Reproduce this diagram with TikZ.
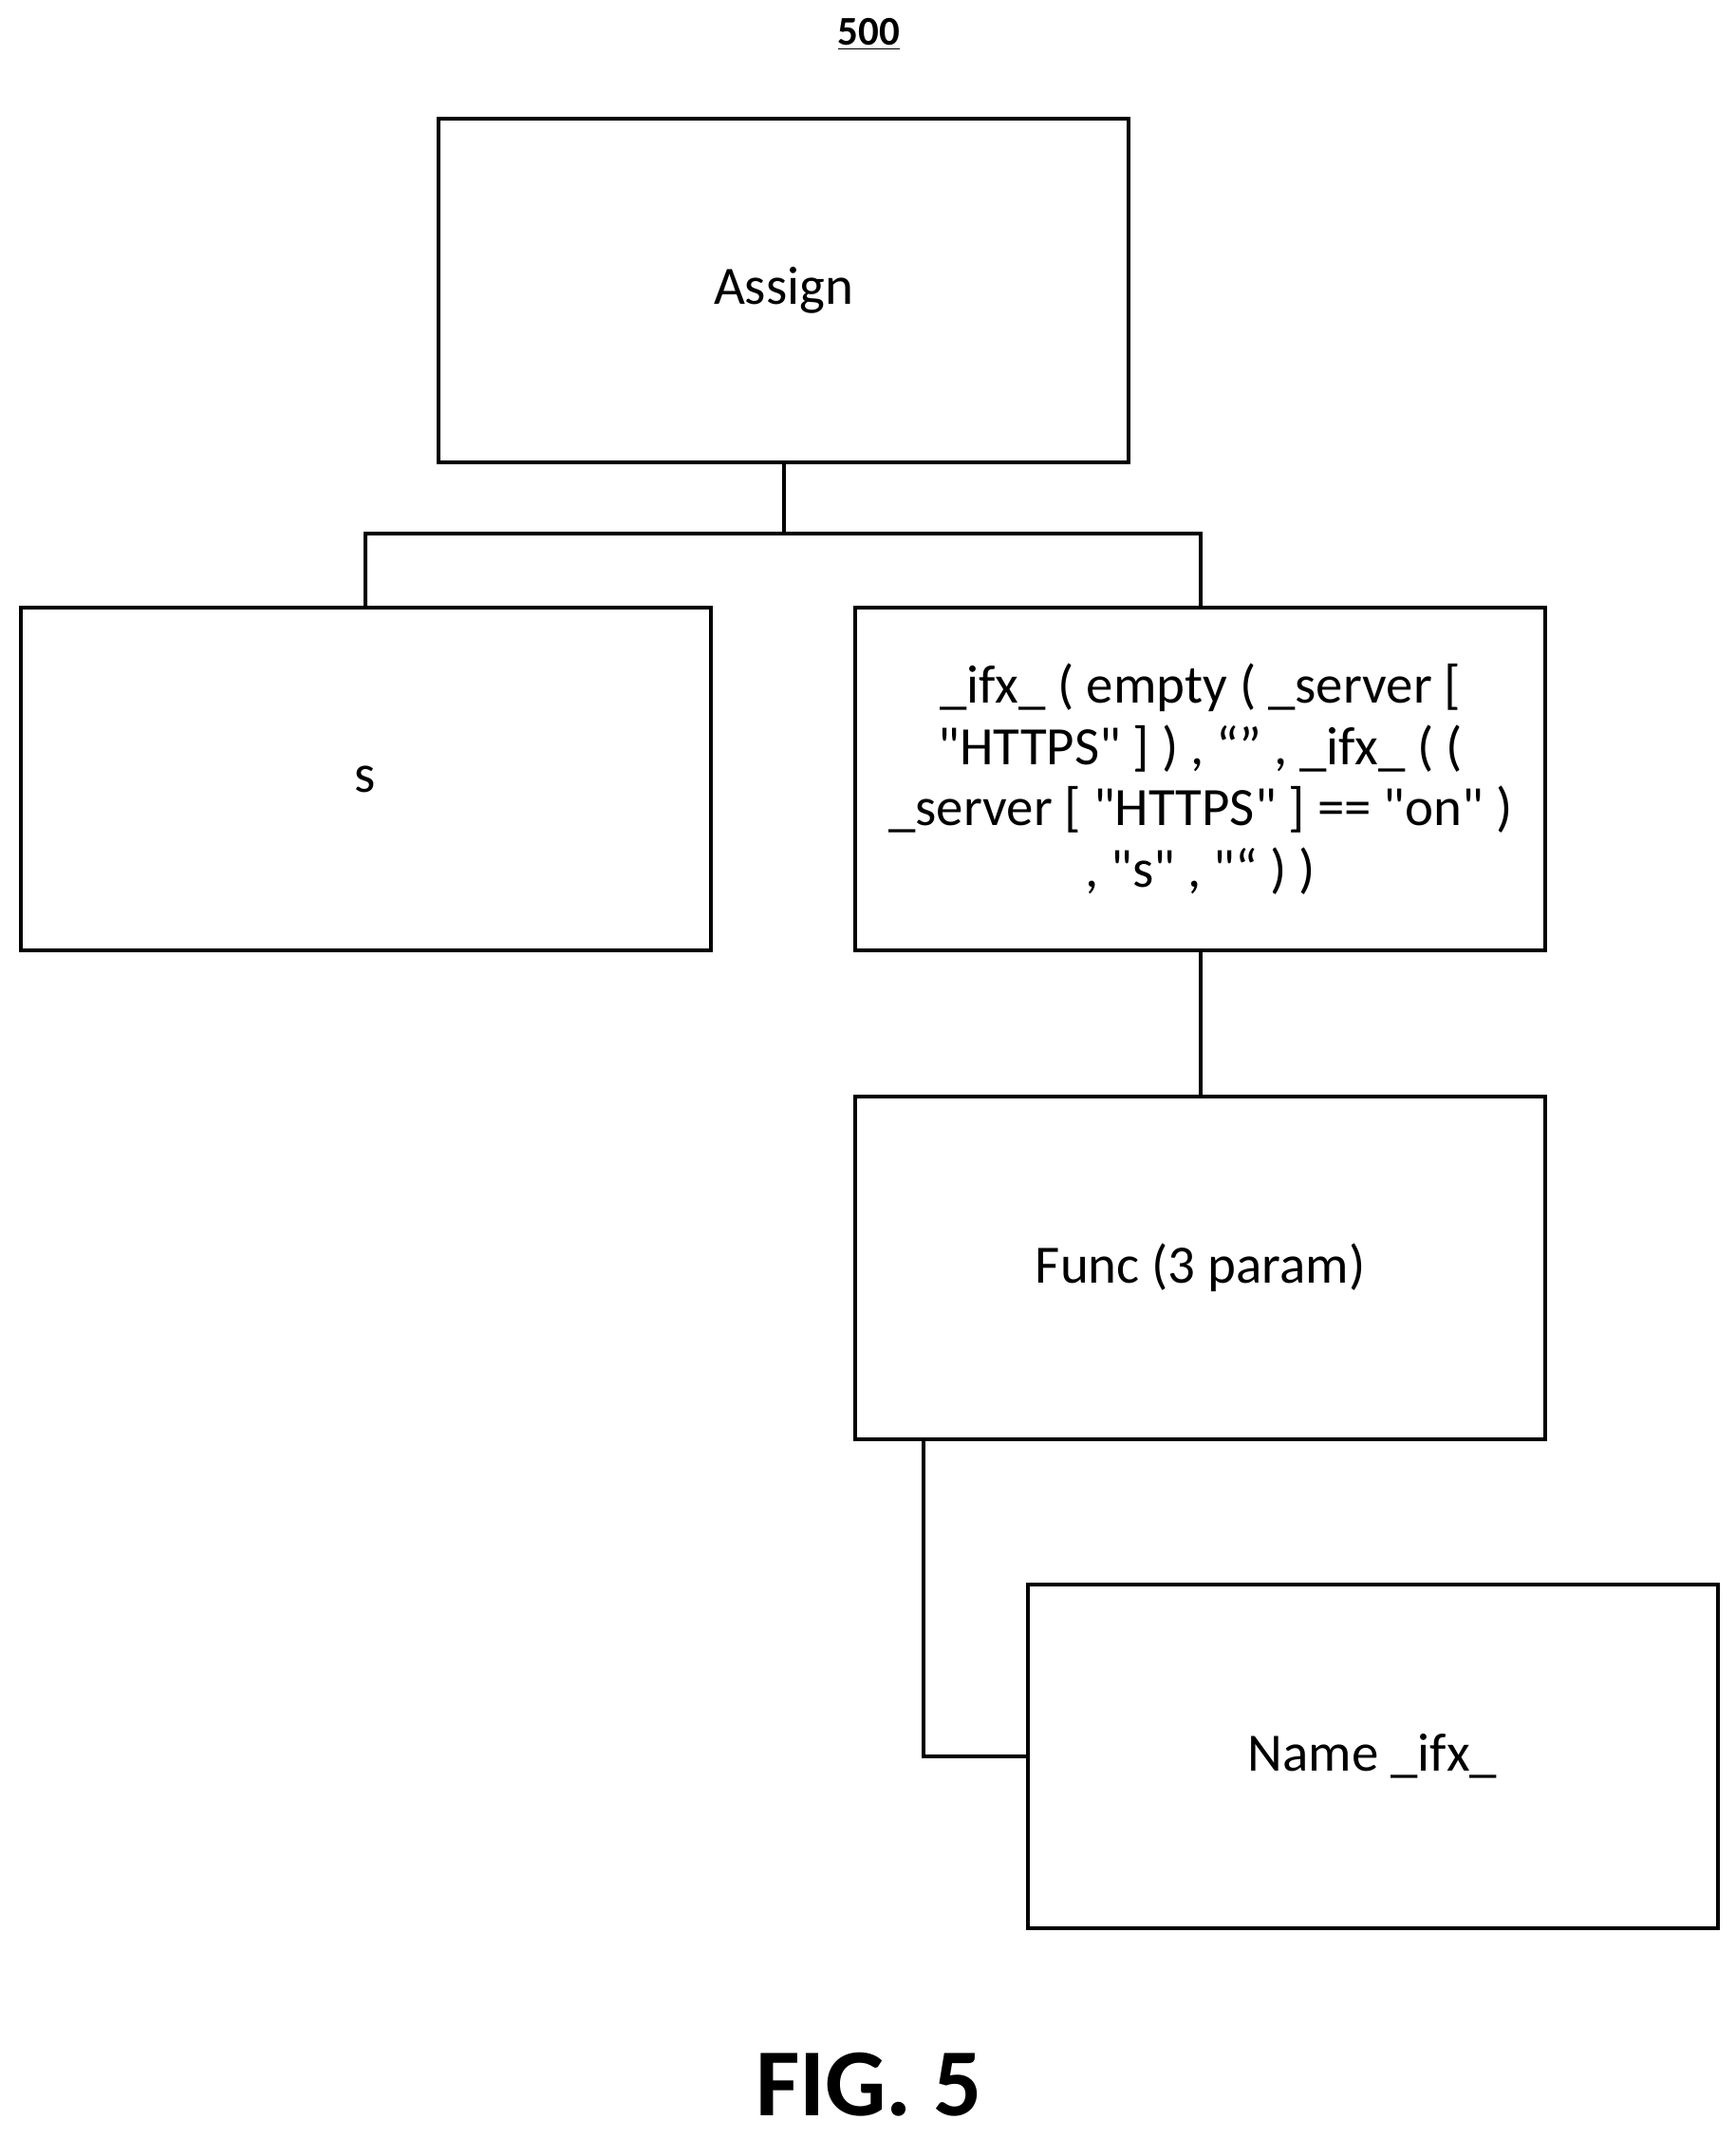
\documentclass[tikz,border=0pt]{standalone}
\usepackage{fontspec}
\setmainfont{Carlito}[Ligatures=TeXOff]
\usepackage{tikz}
\usetikzlibrary{positioning,calc}
\tikzset{
  treebox/.style={draw,line width=1.6pt,minimum width=10.1cm,minimum height=5.02cm,
    align=center,font=\fontsize{22.5}{25.6}\selectfont,inner sep=0pt},
  link/.style={line width=1.6pt}
}
\begin{document}
\begin{tikzpicture}[x=0.02cm,y=-0.02cm]
    \useasboundingbox (0,0) rectangle (1270,1565);
    % Title
    \node[font=\fontsize{17}{20}\selectfont\bfseries] (title) at (636,25) {\underline{500}};

    % Boxes
    \node[treebox] (assign) at (573.5,212.5) {Assign};
    \node[treebox] (s) at (267.5,570) {s};
    \node[treebox] (ifx) at (878.5,570) {\_ifx\_ ( empty ( \_server [\\ "HTTPS" ] ) , “” , \_ifx\_ ( (\\ \_server [ "HTTPS" ] == "on" )\\ , "s" , "“ ) )};
    \node[treebox] (func) at (878.5,927.5) {Func (3 param)};
    \node[treebox] (name) at (1004.5,1285) {Name \_ifx\_};

    % Connectors
    \coordinate (split) at ($(assign.south)+(0,51)$);
    \draw[link] (assign.south) -- (split);
    \draw[link] (s.north) |- (split) -| (ifx.north);
    \draw[link] (ifx.south) -- (func.north);
    \draw[link] ($(func.south west)+(51,0)$) |- (name.west);

    % Caption
    \node[font=\fontsize{40}{48}\selectfont\bfseries] (caption) at (636,1525) {FIG. 5};
\end{tikzpicture}
\end{document}
